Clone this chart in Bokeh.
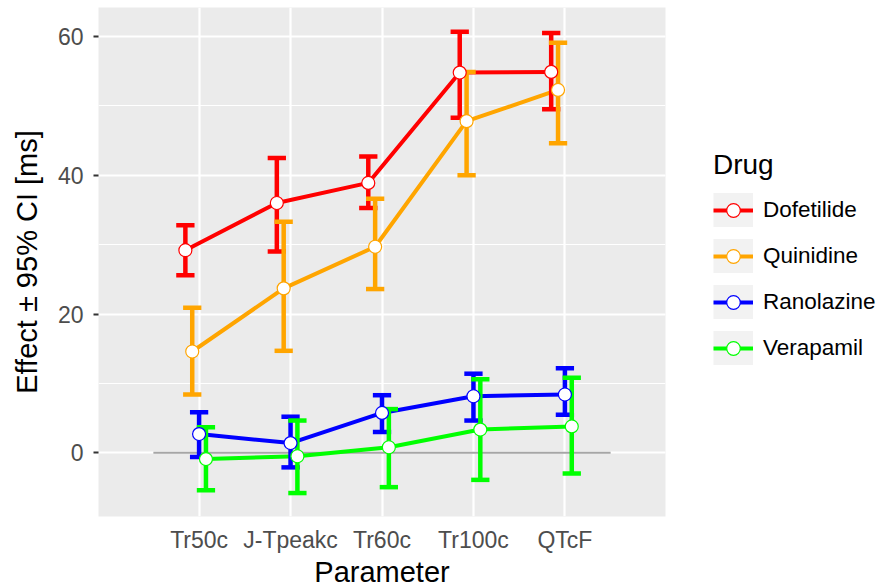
from bokeh.plotting import figure
from bokeh.models import (ColumnDataSource, Legend, LegendItem, SingleIntervalTicker,
                          FixedTicker, Range1d)
from bokeh.embed import file_html
from bokeh.resources import INLINE

# ---------------- data ----------------
parameters = ["Tr50c", "J-Tpeakc", "Tr60c", "Tr100c", "QTcF"]
drugs = ["Dofetilide", "Quinidine", "Ranolazine", "Verapamil"]

dofetilide_effect = [29.2, 36.0, 38.9, 54.8, 54.9]
dofetilide_lower = [25.6, 29.0, 35.3, 48.3, 49.5]
dofetilide_upper = [32.8, 42.5, 42.7, 60.7, 60.5]

quinidine_effect = [14.6, 23.7, 29.7, 47.8, 52.3]
quinidine_lower = [8.4, 14.7, 23.6, 40.0, 44.6]
quinidine_upper = [20.9, 33.3, 36.6, 54.9, 59.1]

ranolazine_effect = [2.7, 1.4, 5.75, 8.15, 8.4]
ranolazine_lower = [-0.6, -2.1, 3.0, 4.65, 5.5]
ranolazine_upper = [5.85, 5.2, 8.3, 11.4, 12.2]

verapamil_effect = [-0.9, -0.5, 0.8, 3.35, 3.8]
verapamil_lower = [-5.4, -5.8, -4.95, -3.9, -3.0]
verapamil_upper = [3.7, 4.65, 6.3, 10.6, 10.8]

zero_line_x = [0.5, 5.5]
zero_line_y = [0, 0]

# ---------------- styles ----------------
colors = {"Dofetilide": "#FF0000", "Quinidine": "#FFA500",
          "Ranolazine": "#0000FF", "Verapamil": "#00FF00"}
dodge = {"Dofetilide": -0.15, "Quinidine": -0.075, "Ranolazine": 0.0, "Verapamil": 0.075}
cap_half = 0.1
FONT = "Liberation Sans"

series = {
    "Dofetilide": (dofetilide_effect, dofetilide_lower, dofetilide_upper),
    "Quinidine": (quinidine_effect, quinidine_lower, quinidine_upper),
    "Ranolazine": (ranolazine_effect, ranolazine_lower, ranolazine_upper),
    "Verapamil": (verapamil_effect, verapamil_lower, verapamil_upper),
}

positions = list(range(1, len(parameters) + 1))

p = figure(frame_width=567, frame_height=509,
           x_range=Range1d(-0.1, 6.1), y_range=Range1d(-9.18, 64.18),
           output_backend="svg", toolbar_location=None,
           min_border_left=98, min_border_right=217,
           min_border_top=7, min_border_bottom=70)

p.background_fill_color = "#EBEBEB"
p.border_fill_color = "white"
p.outline_line_color = None

# grids
yticker = SingleIntervalTicker(interval=20, num_minor_ticks=2)
xticker = FixedTicker(ticks=positions)
p.xaxis.ticker = xticker
p.yaxis.ticker = yticker
p.xgrid.ticker = xticker
p.ygrid.ticker = yticker
p.xgrid.grid_line_color = "white"
p.xgrid.grid_line_width = 2.2
p.ygrid.grid_line_color = "white"
p.ygrid.grid_line_width = 2.2
p.ygrid.minor_grid_line_color = "white"
p.ygrid.minor_grid_line_width = 1.2

# axes
for ax in (p.xaxis, p.yaxis):
    ax.axis_line_color = None
    ax.minor_tick_line_color = None
    ax.major_label_text_font = FONT
    ax.major_label_text_font_size = "23px"
    ax.major_label_text_color = "#4D4D4D"
    ax.axis_label_text_font = FONT
    ax.axis_label_text_font_size = "29px"
    ax.axis_label_text_font_style = "normal"
    ax.axis_label_text_color = "black"

p.xaxis.major_label_overrides = {pos: name for pos, name in zip(positions, parameters)}
p.xaxis.major_tick_line_color = None
p.xaxis.major_tick_out = 0
p.xaxis.major_tick_in = 0
p.xaxis.major_label_standoff = 10
p.xaxis.axis_label = "Parameter"
p.xaxis.axis_label_standoff = 0

p.yaxis.major_tick_line_color = "#333333"
p.yaxis.major_tick_line_width = 2
p.yaxis.major_tick_out = 5
p.yaxis.major_tick_in = 0
p.yaxis.major_label_standoff = 10
p.yaxis.axis_label = "Effect \u00b1 95% CI [ms]"
p.yaxis.axis_label_standoff = 12

# zero reference line
p.line(zero_line_x, zero_line_y, line_color="#A6A6A6", line_width=2)

sources = {}
for d in drugs:
    eff, lo, hi = series[d]
    xs = [x + dodge[d] for x in positions]
    sources[d] = ColumnDataSource(dict(
        x=xs, y=eff, lo=lo, hi=hi,
        xl=[x - cap_half for x in xs], xr=[x + cap_half for x in xs]))

line_r = {}
for d in drugs:
    line_r[d] = p.line("x", "y", source=sources[d], line_color=colors[d], line_width=4)

for d in drugs:
    s = sources[d]
    p.segment("x", "lo", "x", "hi", source=s, line_color=colors[d], line_width=4.5)
    p.segment("xl", "lo", "xr", "lo", source=s, line_color=colors[d], line_width=4.5)
    p.segment("xl", "hi", "xr", "hi", source=s, line_color=colors[d], line_width=4.5)

point_r = {}
for d in drugs:
    point_r[d] = p.scatter("x", "y", source=sources[d], size=13, fill_color="white",
                           line_color=colors[d], line_width=1.2)

# legend key background (legend only, no visible data)
nan = float("nan")
key_bg = p.line(x=[nan], y=[nan], line_color="#F2F2F2", line_width=42)

items = [LegendItem(label=d, renderers=[key_bg, line_r[d], point_r[d]]) for d in drugs]
legend = Legend(items=items, location=(48, 151), title="Drug",
                title_text_font=FONT, title_text_font_size="28px",
                title_text_font_style="normal", title_text_color="black",
                title_standoff=12,
                label_text_font=FONT, label_text_font_size="22.5px", label_text_color="black",
                glyph_width=40, glyph_height=34, spacing=12, label_standoff=10,
                padding=0, margin=0, border_line_color=None, background_fill_alpha=0)
p.add_layout(legend, "right")

open("out.html", "w").write(file_html(p, INLINE))
